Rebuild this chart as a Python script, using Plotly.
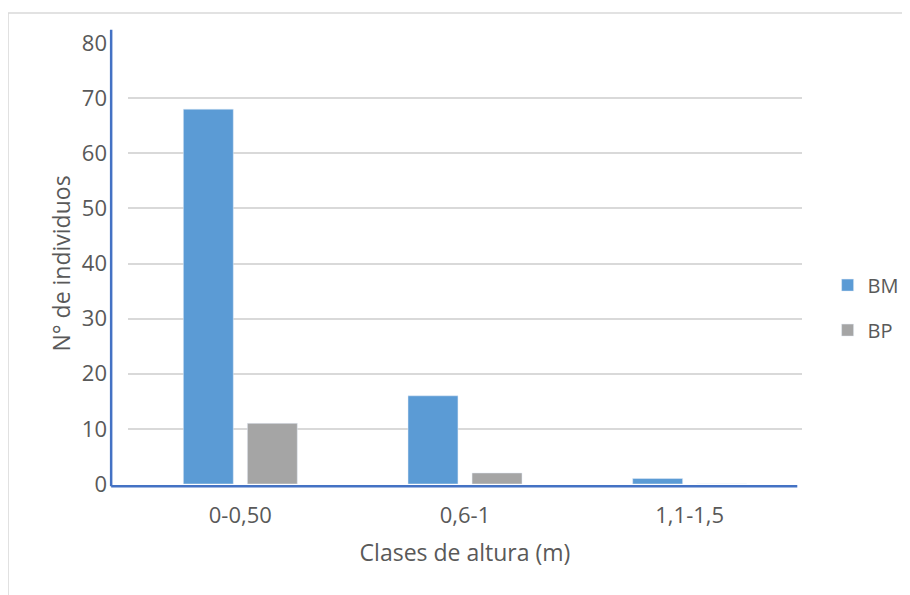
import plotly.graph_objects as go

categorias = ["0-0,50", "0,6-1", "1,1-1,5"]
bm = [68, 16, 1]
bp = [11, 2, 0]

font = "Open Sans, Liberation Sans, sans-serif"
gris_txt = "#595959"

fig = go.Figure()
fig.add_trace(go.Bar(x=categorias, y=bm, name="BM", marker_color="#5B9BD5",
                     legendgroup="a"))
fig.add_trace(go.Bar(x=categorias, y=bp, name="BP", marker_color="#A5A5A5",
                     legendgroup="b"))

# el navegador añade 8px de margen al body, se compensa en los márgenes
fig.update_layout(
    width=910, height=595,
    margin=dict(l=120, r=116, t=35, b=119, autoexpand=False),
    paper_bgcolor="white", plot_bgcolor="white",
    barmode="group", bargap=0.43, bargroupgap=0.22,
    font=dict(family=font, color=gris_txt, size=20),
    legend=dict(x=1.038, y=0.40, xanchor="left", yanchor="middle",
                tracegroupgap=16, font=dict(size=20)),
    xaxis=dict(showgrid=False, showline=False, ticks="",
               tickfont=dict(size=22), ticklabelstandoff=16,
               title=dict(text="Clases de altura (m)", font=dict(size=23), standoff=16)),
    yaxis=dict(range=[0, 80], dtick=10, showgrid=True, gridcolor="#D9D9D9",
               gridwidth=1.5, zeroline=False, showline=False, ticks="",
               ticklabelstandoff=20, tickfont=dict(size=22),
               title=dict(text="N° de individuos", font=dict(size=23), standoff=4)),
    shapes=[
        # ejes azules
        dict(type="line", xref="paper", yref="paper", x0=-0.025, x1=-0.025,
             y0=-0.005, y1=1.03, line=dict(color="#4472C4", width=2.5)),
        dict(type="line", xref="paper", yref="paper", x0=-0.025, x1=0.993,
             y0=-0.005, y1=-0.005, line=dict(color="#4472C4", width=2.5)),
        # borde del gráfico
        dict(type="line", xref="paper", yref="paper", x0=-0.178, x1=1.2,
             y0=1.068, y1=1.068, line=dict(color="#D9D9D9", width=1.5)),
        dict(type="line", xref="paper", yref="paper", x0=-0.178, x1=-0.178,
             y0=-0.3, y1=1.068, line=dict(color="#D9D9D9", width=1.5)),
    ],
)

fig.write_html("out.html")
